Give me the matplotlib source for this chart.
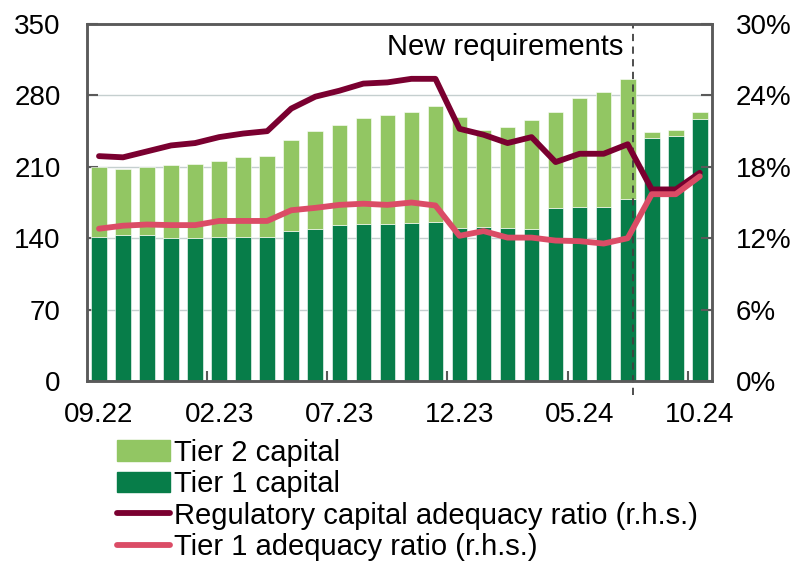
import numpy as np
import matplotlib
matplotlib.use("Agg")
import matplotlib.pyplot as plt
from matplotlib.patches import Patch
from matplotlib.lines import Line2D

plt.rcParams['font.family'] = ['Liberation Sans', 'DejaVu Sans']

# monthly data, 09.22 .. 10.24
months = ["09.22", "10.22", "11.22", "12.22", "01.23", "02.23", "03.23", "04.23",
          "05.23", "06.23", "07.23", "08.23", "09.23", "10.23", "11.23", "12.23",
          "01.24", "02.24", "03.24", "04.24", "05.24", "06.24", "07.24", "08.24",
          "09.24", "10.24"]
tier1_capital = [141.5, 143, 143, 140.5, 140.5, 141, 141, 141, 147.5, 149.5, 153, 154, 153.5,
                 155, 155.5, 150, 150.5, 150, 149.5, 169.5, 171, 171, 178, 238, 240, 257]
total_capital = [209.5, 208, 210, 211.5, 212.5, 215.5, 219.5, 220.5, 236, 245.5, 251.5, 258,
                 260.5, 264, 270, 258.5, 246, 249, 256, 264, 277.5, 283, 296, 244.5, 246.5, 264]
tier2_capital = [t - c for t, c in zip(total_capital, tier1_capital)]
reg_ratio = [18.9, 18.8, 19.3, 19.8, 20.0, 20.5, 20.8, 21.0, 22.9, 23.9, 24.4, 25.0, 25.1,
             25.4, 25.4, 21.2, 20.7, 20.0, 20.5, 18.4, 19.1, 19.1, 19.9, 16.1, 16.1, 17.5]
tier1_ratio = [12.8, 13.05, 13.15, 13.1, 13.1, 13.45, 13.45, 13.45, 14.35, 14.55, 14.8, 14.9,
               14.8, 15.0, 14.75, 12.2, 12.6, 12.05, 12.05, 11.8, 11.75, 11.55, 12.0, 15.7,
               15.7, 17.2]

c_t2 = "#92c663"
c_t1 = "#077d49"
c_reg = "#7a0030"
c_t1r = "#db4c66"
spine_c = "#5a5a5a"
fs = 20

fig = plt.figure(figsize=(7.98, 5.61), dpi=100)
ax = fig.add_axes([0.109, 0.321, 0.783, 0.636])
ax2 = ax.twinx()

x = np.arange(len(months))
ax.set_axisbelow(True)
ax.yaxis.grid(True, color="#c5cfcf", lw=1)
ax.bar(x, tier1_capital, width=0.65, color=c_t1, edgecolor="white", linewidth=0.4, zorder=2)
ax.bar(x, tier2_capital, bottom=tier1_capital, width=0.65, color=c_t2,
       edgecolor="white", linewidth=0.4, zorder=2)

ax2.plot(x, reg_ratio, color=c_reg, lw=4.2, solid_capstyle="round", solid_joinstyle="round")
ax2.plot(x, tier1_ratio, color=c_t1r, lw=4.2, solid_capstyle="round", solid_joinstyle="round")

ax.set_xlim(-0.5, 25.5)
ax.set_ylim(0, 350)
ax2.set_ylim(0, 30)
ax.set_yticks(np.arange(0, 351, 70))
ax2.set_yticks(np.arange(0, 31, 6))
ax2.set_yticklabels([f"{v}%" for v in range(0, 31, 6)])

ax.set_xticks(x[::5])
ax.set_xticklabels(months[::5])
ax.set_xticks([4.5, 9.5, 14.5, 19.5, 24.5], minor=True)
ax.tick_params(axis="x", which="major", length=0, pad=15, labelsize=fs)
ax.tick_params(axis="x", which="minor", direction="in", length=7, width=1.5, color=spine_c)
ax.tick_params(axis="y", direction="in", length=8, width=1.5, color=spine_c, pad=19, labelsize=fs)
ax2.tick_params(axis="y", direction="in", length=8, width=1.5, color=spine_c, pad=17, labelsize=fs)

for a in (ax, ax2):
    for s in a.spines.values():
        s.set_color(spine_c)
        s.set_linewidth(1.8)

ax.axvline(22.2, ymin=-0.04, ymax=1, color="#404040", ls=(0, (4, 3)), lw=1.3,
           clip_on=False, zorder=3)
ax.text(21.8, 328, "New requirements", ha="right", va="center", fontsize=21)

handles = [Patch(color=c_t2), Patch(color=c_t1),
           Line2D([], [], color=c_reg, lw=4.2, solid_capstyle="round"),
           Line2D([], [], color=c_t1r, lw=4.2, solid_capstyle="round")]
labels = ["Tier 2 capital", "Tier 1 capital",
          "Regulatory capital adequacy ratio (r.h.s.)", "Tier 1 adequacy ratio (r.h.s.)"]
fig.legend(handles, labels, loc="upper left", bbox_to_anchor=(0.147, 0.218),
           frameon=False, fontsize=21, handlelength=1.8, handletextpad=0.15,
           labelspacing=0.12, borderaxespad=0, borderpad=0)

fig.savefig("out.png", dpi=100)
